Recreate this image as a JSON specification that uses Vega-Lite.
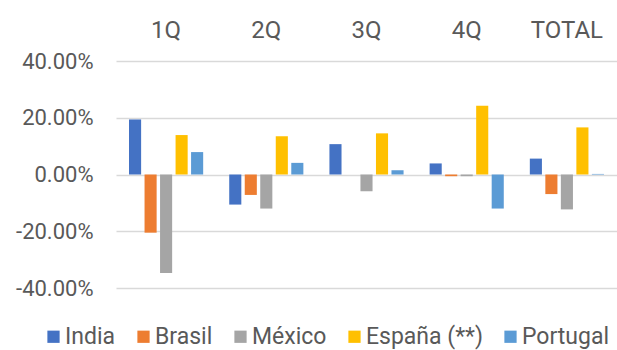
{
  "$schema": "https://vega.github.io/schema/vega-lite/v6.json",
  "autosize": "none",
  "width": 501,
  "height": 227,
  "padding": {"left": 116, "top": 61, "right": 0, "bottom": 62},
  "background": "white",
  "data": {
    "values": [
      {"periodo": "1Q", "pais": "India", "var": 0.194},
      {"periodo": "1Q", "pais": "Brasil", "var": -0.205},
      {"periodo": "1Q", "pais": "México", "var": -0.347},
      {"periodo": "1Q", "pais": "España (**)", "var": 0.139},
      {"periodo": "1Q", "pais": "Portugal", "var": 0.079},
      {"periodo": "2Q", "pais": "India", "var": -0.106},
      {"periodo": "2Q", "pais": "Brasil", "var": -0.072},
      {"periodo": "2Q", "pais": "México", "var": -0.120},
      {"periodo": "2Q", "pais": "España (**)", "var": 0.135},
      {"periodo": "2Q", "pais": "Portugal", "var": 0.041},
      {"periodo": "3Q", "pais": "India", "var": 0.107},
      {"periodo": "3Q", "pais": "Brasil", "var": 0.0},
      {"periodo": "3Q", "pais": "México", "var": -0.059},
      {"periodo": "3Q", "pais": "España (**)", "var": 0.145},
      {"periodo": "3Q", "pais": "Portugal", "var": 0.015},
      {"periodo": "4Q", "pais": "India", "var": 0.039},
      {"periodo": "4Q", "pais": "Brasil", "var": -0.006},
      {"periodo": "4Q", "pais": "México", "var": -0.006},
      {"periodo": "4Q", "pais": "España (**)", "var": 0.242},
      {"periodo": "4Q", "pais": "Portugal", "var": -0.120},
      {"periodo": "TOTAL", "pais": "India", "var": 0.056},
      {"periodo": "TOTAL", "pais": "Brasil", "var": -0.069},
      {"periodo": "TOTAL", "pais": "México", "var": -0.123},
      {"periodo": "TOTAL", "pais": "España (**)", "var": 0.166},
      {"periodo": "TOTAL", "pais": "Portugal", "var": 0.002}
    ]
  },
  "mark": {"type": "bar"},
  "encoding": {
    "x": {
      "field": "periodo",
      "type": "nominal",
      "sort": ["1Q", "2Q", "3Q", "4Q", "TOTAL"],
      "scale": {"paddingInner": 0.26, "paddingOuter": 0.13},
      "axis": {
        "orient": "top",
        "title": null,
        "domain": false,
        "ticks": false,
        "labelAngle": 0,
        "labelFontSize": 24,
        "labelPadding": 19,
        "labelColor": "#595959",
        "labelFont": "Roboto"
      }
    },
    "xOffset": {
      "field": "pais",
      "type": "nominal",
      "sort": ["India", "Brasil", "México", "España (**)", "Portugal"],
      "scale": {"paddingInner": 0.22, "paddingOuter": 0}
    },
    "y": {
      "field": "var",
      "type": "quantitative",
      "scale": {"domain": [-0.4, 0.4], "nice": false, "zero": true},
      "axis": {
        "title": null,
        "format": ".2%",
        "values": [-0.4, -0.2, 0, 0.2, 0.4],
        "domain": false,
        "ticks": false,
        "tickSize": 0,
        "labelPadding": 23,
        "labelFontSize": 22,
        "labelColor": "#595959",
        "labelFont": "Roboto",
        "grid": true,
        "gridColor": "#d9d9d9",
        "gridWidth": 1.5
      }
    },
    "color": {
      "field": "pais",
      "type": "nominal",
      "scale": {
        "domain": ["India", "Brasil", "México", "España (**)", "Portugal"],
        "range": ["#4472C4", "#ED7D31", "#A5A5A5", "#FFC000", "#5B9BD5"]
      },
      "legend": {
        "title": null,
        "orient": "none",
        "direction": "horizontal",
        "legendX": -74,
        "legendY": 264,
        "symbolType": "square",
        "symbolSize": 150,
        "symbolStrokeWidth": 0,
        "symbolOpacity": 1,
        "labelFontSize": 23,
        "labelFont": "Roboto",
        "labelColor": "#595959",
        "labelOffset": 0,
        "columnPadding": 16,
        "labelLimit": 300
      }
    }
  },
  "config": {
    "view": {"stroke": null},
    "locale": {
      "number": {
        "decimal": ".",
        "thousands": ",",
        "grouping": [3],
        "currency": ["$", ""],
        "minus": "-"
      }
    }
  }
}
